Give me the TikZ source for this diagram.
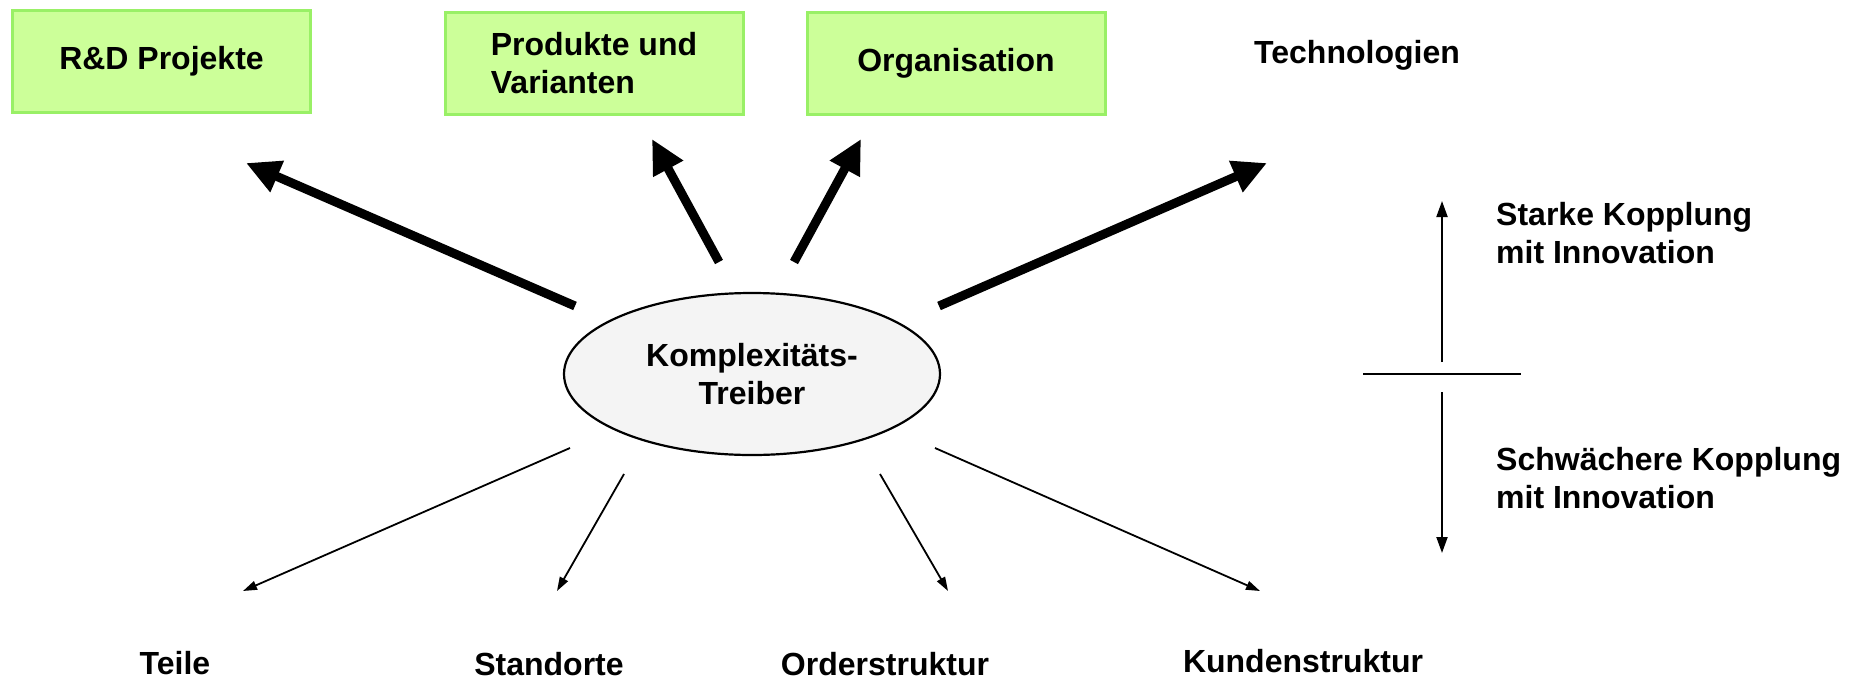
\documentclass[tikz,border=0pt]{standalone}
\usepackage{fontspec}
\setmainfont{Liberation Sans}
\usetikzlibrary{arrows.meta,shapes.geometric}
\definecolor{boxfill}{HTML}{CCFF99}
\definecolor{boxline}{HTML}{99F066}
\definecolor{ellfill}{HTML}{F4F4F4}
\tikzset{
  lbl/.style={font=\fontsize{32}{38}\selectfont\bfseries, align=left, inner sep=0pt},
  greenbox/.style={draw=boxline, fill=boxfill, line width=3pt, minimum width=298pt, minimum height=102pt, inner sep=0pt, font=\fontsize{32}{38}\selectfont\bfseries, align=left},
  thickarr/.style={line width=9pt, -{Triangle[length=34pt,width=32pt]}},
  thinarr/.style={line width=1.8pt, -{Triangle[length=14pt,width=9pt]}},
  keyarr/.style={line width=2pt, -{Triangle[length=16pt,width=11pt]}}
}
\begin{document}
\begin{tikzpicture}[x=1pt,y=-1pt]
\useasboundingbox (0,0) rectangle (1863,683);
% top boxes
\node[greenbox] (rd) at (161.5,61.5) {R\&D Projekte};
\node[greenbox] (prod) at (594,63.5) {Produkte und\\Varianten};
\node[greenbox] (org) at (956,63.5) {Organisation};
\node[lbl] (tech) at (1357,55) {Technologien};
% ellipse
\node[ellipse, draw, line width=2.2pt, fill=ellfill, minimum width=376pt, minimum height=162pt, font=\fontsize{32}{38}\selectfont\bfseries, align=center] (ell) at (752,374) {Komplexitäts-\\Treiber};
% thick arrow coordinates
\coordinate (t1s) at (575,306); \coordinate (t1e) at (246,163);
\coordinate (t2s) at (719,262); \coordinate (t2e) at (652,139);
\coordinate (t3s) at (794,262); \coordinate (t3e) at (861,139);
\coordinate (t4s) at (939,306); \coordinate (t4e) at (1267,163);
\draw[thickarr] (t1s) -- (t1e);
\draw[thickarr] (t2s) -- (t2e);
\draw[thickarr] (t3s) -- (t3e);
\draw[thickarr] (t4s) -- (t4e);
% thin arrows
\coordinate (b1s) at (570,448); \coordinate (b1e) at (243,591);
\coordinate (b2s) at (624,474); \coordinate (b2e) at (557,591);
\coordinate (b3s) at (880,474); \coordinate (b3e) at (948,591);
\coordinate (b4s) at (935,448); \coordinate (b4e) at (1260,591);
\draw[thinarr] (b1s) -- (b1e);
\draw[thinarr] (b2s) -- (b2e);
\draw[thinarr] (b3s) -- (b3e);
\draw[thinarr] (b4s) -- (b4e);
% bottom labels
\node[lbl] (teile) at (175,663) {Teile};
\node[lbl] (stand) at (549,664) {Standorte};
\node[lbl] (order) at (885,664) {Orderstruktur};
\node[lbl] (kunde) at (1303,661) {Kundenstruktur};
% legend
\coordinate (hl) at (1363,374); \coordinate (hr) at (1521,374);
\draw[line width=2.5pt] (hl) -- (hr);
\coordinate (us) at (1442,362); \coordinate (ue) at (1442,201);
\coordinate (ds) at (1442,392); \coordinate (de) at (1442,553);
\draw[keyarr] (us) -- (ue);
\draw[keyarr] (ds) -- (de);
\node[lbl, anchor=west] (stark) at (1496,233) {Starke Kopplung\\mit Innovation};
\node[lbl, anchor=west] (schwach) at (1496,478) {Schwächere Kopplung\\mit Innovation};
\end{tikzpicture}
\end{document}
